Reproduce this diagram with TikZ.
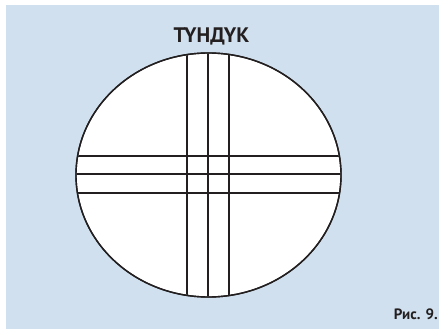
\documentclass[tikz,border=0pt]{standalone}
\usepackage{fontspec}
\setmainfont{PT Sans}
\definecolor{bgblue}{HTML}{D0E0EE}
\definecolor{ink}{HTML}{231F20}
\begin{document}
\begin{tikzpicture}[x=1pt,y=-1pt,
  beam/.style={draw=ink,line width=2pt},
  rim/.style={draw=ink,line width=1.4pt,fill=white}]
\useasboundingbox (0,0) rectangle (439,329);
\fill[white] (0,0) rectangle (439,329);
\fill[bgblue] (6,5) rectangle (439,329);
\path[rim] (208.5,175) ellipse [x radius=132.5, y radius=122];
\begin{scope}
  \clip (208.5,175) ellipse [x radius=131.8, y radius=121.3];
  \foreach \x in {187,208,229} \draw[beam] (\x,40) -- (\x,310);
  \foreach \y in {155.7,174.3,193.3} \draw[beam] (60,\y) -- (360,\y);
\end{scope}
\path[rim,fill=none] (208.5,175) ellipse [x radius=132.5, y radius=122];
\node[font=\bfseries\fontsize{21}{24}\selectfont,text=ink] (title) at (211.5,36) {ТҮНДҮК};
\node[font=\bfseries\fontsize{15}{18}\selectfont,text=ink,anchor=east,inner sep=1pt] (cap) at (439,314) {Рис. 9.};
\end{tikzpicture}
\end{document}
